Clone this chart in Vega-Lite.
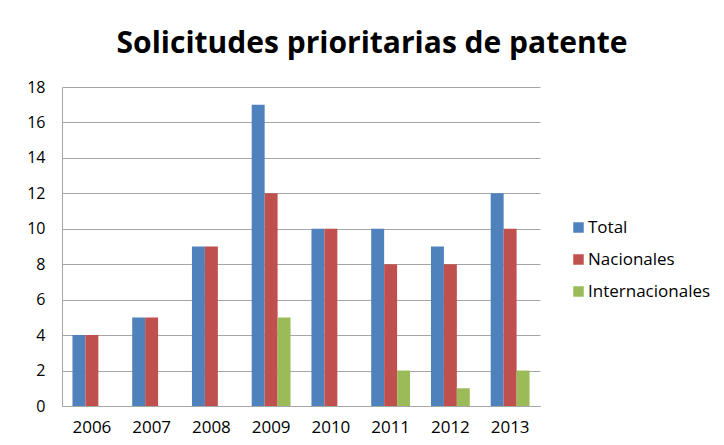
{
  "$schema": "https://vega.github.io/schema/vega-lite/v6.json",
  "width": 478,
  "height": 319,
  "autosize": {"type": "none"},
  "padding": {"left": 62, "top": 87, "right": 184, "bottom": 39},
  "background": "white",
  "title": {
    "text": "Solicitudes prioritarias de patente",
    "font": "Open Sans",
    "fontSize": 30,
    "fontWeight": "bold",
    "color": "black",
    "anchor": "middle",
    "dx": 71,
    "offset": 20
  },
  "data": {
    "values": [
      {"year": "2006", "series": "Total", "value": 4},
      {"year": "2006", "series": "Nacionales", "value": 4},
      {"year": "2006", "series": "Internacionales", "value": 0},
      {"year": "2007", "series": "Total", "value": 5},
      {"year": "2007", "series": "Nacionales", "value": 5},
      {"year": "2007", "series": "Internacionales", "value": 0},
      {"year": "2008", "series": "Total", "value": 9},
      {"year": "2008", "series": "Nacionales", "value": 9},
      {"year": "2008", "series": "Internacionales", "value": 0},
      {"year": "2009", "series": "Total", "value": 17},
      {"year": "2009", "series": "Nacionales", "value": 12},
      {"year": "2009", "series": "Internacionales", "value": 5},
      {"year": "2010", "series": "Total", "value": 10},
      {"year": "2010", "series": "Nacionales", "value": 10},
      {"year": "2010", "series": "Internacionales", "value": 0},
      {"year": "2011", "series": "Total", "value": 10},
      {"year": "2011", "series": "Nacionales", "value": 8},
      {"year": "2011", "series": "Internacionales", "value": 2},
      {"year": "2012", "series": "Total", "value": 9},
      {"year": "2012", "series": "Nacionales", "value": 8},
      {"year": "2012", "series": "Internacionales", "value": 1},
      {"year": "2013", "series": "Total", "value": 12},
      {"year": "2013", "series": "Nacionales", "value": 10},
      {"year": "2013", "series": "Internacionales", "value": 2}
    ]
  },
  "mark": {"type": "bar", "strokeWidth": 0},
  "encoding": {
    "x": {
      "field": "year",
      "type": "nominal",
      "scale": {"paddingInner": 0.35, "paddingOuter": 0.175},
      "axis": {
        "title": null,
        "labelAngle": 0,
        "ticks": false,
        "labelPadding": 13,
        "labelFont": "Open Sans",
        "labelFontSize": 17,
        "labelColor": "black",
        "domainColor": "#a6a6a6",
        "domainWidth": 1
      }
    },
    "xOffset": {
      "field": "series",
      "type": "nominal",
      "sort": ["Total", "Nacionales", "Internacionales"]
    },
    "y": {
      "field": "value",
      "type": "quantitative",
      "scale": {"domain": [0, 18]},
      "axis": {
        "title": null,
        "values": [0, 2, 4, 6, 8, 10, 12, 14, 16, 18],
        "ticks": false,
        "labelPadding": 17,
        "labelFont": "Open Sans",
        "labelFontSize": 16,
        "labelColor": "black",
        "domainColor": "#a6a6a6",
        "domainWidth": 1,
        "gridColor": "#a6a6a6",
        "gridWidth": 1
      }
    },
    "color": {
      "field": "series",
      "type": "nominal",
      "sort": ["Total", "Nacionales", "Internacionales"],
      "scale": {
        "domain": ["Total", "Nacionales", "Internacionales"],
        "range": ["#4F81BD", "#C0504D", "#9BBB59"]
      },
      "legend": {
        "title": null,
        "orient": "none",
        "legendX": 508,
        "legendY": 132,
        "symbolType": "square",
        "symbolSize": 110,
        "symbolStrokeWidth": 0,
        "labelFont": "Open Sans",
        "labelFontSize": 17,
        "labelColor": "black",
        "rowPadding": 14,
        "labelOffset": 1
      }
    }
  },
  "config": {
    "view": {"stroke": null}
  }
}
